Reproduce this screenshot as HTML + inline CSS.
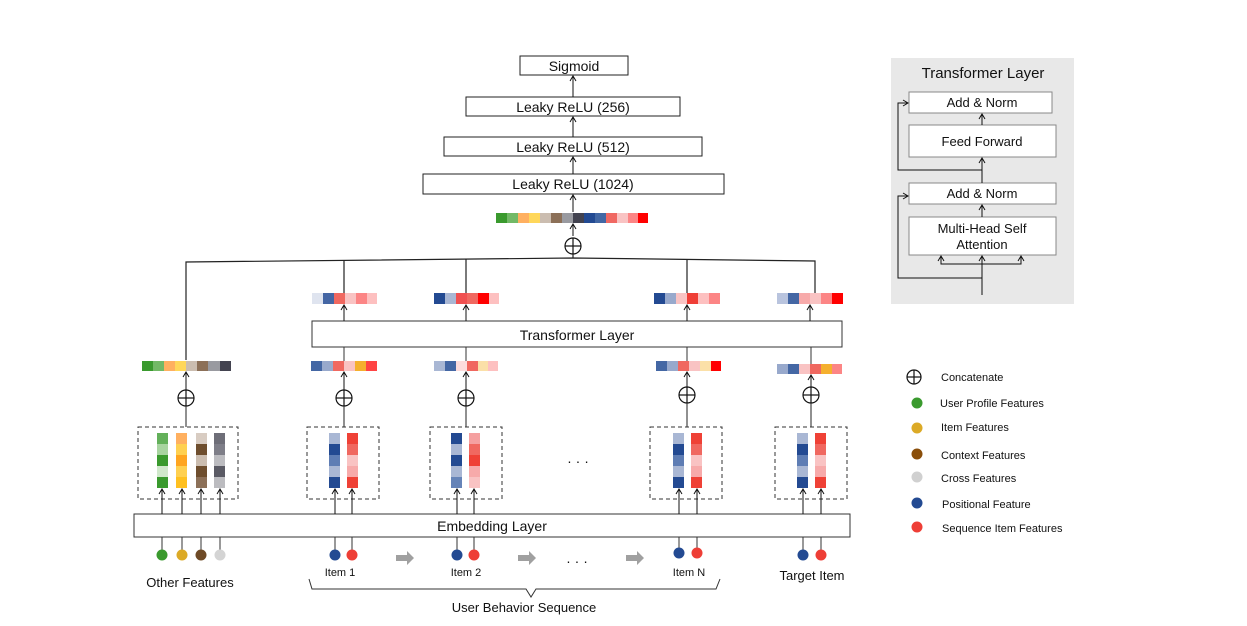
<!DOCTYPE html>
<html><head><meta charset="utf-8"><style>
html,body{margin:0;padding:0;background:#fff;}
svg{display:block;font-family:"Liberation Sans",Arial,sans-serif;}
</style></head><body>
<svg width="1247" height="626" viewBox="0 0 1247 626" xmlns="http://www.w3.org/2000/svg">
<defs>
<marker id="a" markerWidth="8" markerHeight="8" refX="6" refY="4" orient="auto" markerUnits="userSpaceOnUse">
<polyline points="1,1 6,4 1,7" fill="none" stroke="#111" stroke-width="1"/>
</marker>
</defs>
<g stroke="#222" stroke-width="1" fill="#fff">
<!-- top stack -->
<rect x="520" y="56" width="108" height="19"/>
<rect x="466" y="97" width="214" height="19"/>
<rect x="444" y="137" width="258" height="19"/>
<rect x="423" y="174" width="301" height="20"/>
</g>
<g font-size="14" fill="#111" text-anchor="middle">
<text x="574" y="71">Sigmoid</text>
<text x="573" y="112">Leaky ReLU (256)</text>
<text x="573" y="152">Leaky ReLU (512)</text>
<text x="573" y="189">Leaky ReLU (1024)</text>
</g>
<g stroke="#111" stroke-width="1" marker-end="url(#a)">
<line x1="573" y1="97" x2="573" y2="76"/>
<line x1="573" y1="137" x2="573" y2="117"/>
<line x1="573" y1="174" x2="573" y2="157"/>
<line x1="573" y1="212" x2="573" y2="195"/>
<line x1="573" y1="236" x2="573" y2="224"/>
</g>
<!-- top concat bar -->
<g>
<rect x="496" y="213" width="11" height="10" fill="#3a9a2e"/><rect x="507" y="213" width="11" height="10" fill="#72b966"/><rect x="518" y="213" width="11" height="10" fill="#ffb060"/><rect x="529" y="213" width="11" height="10" fill="#ffd75a"/><rect x="540" y="213" width="11" height="10" fill="#cbbdb0"/><rect x="551" y="213" width="11" height="10" fill="#8c7058"/><rect x="562" y="213" width="11" height="10" fill="#999aa0"/><rect x="573" y="213" width="11" height="10" fill="#434350"/><rect x="584" y="213" width="11" height="10" fill="#234a92"/><rect x="595" y="213" width="11" height="10" fill="#4267a4"/><rect x="606" y="213" width="11" height="10" fill="#f06862"/><rect x="617" y="213" width="11" height="10" fill="#f9c3c3"/><rect x="628" y="213" width="10" height="10" fill="#fc8585"/><rect x="638" y="213" width="10" height="10" fill="#ff0000"/>
</g>
<!-- oplus symbols -->
<g stroke="#111" stroke-width="1.2" fill="none">
<circle cx="573" cy="246" r="8"/><line x1="565" y1="246" x2="581" y2="246"/><line x1="573" y1="238" x2="573" y2="254"/>
<circle cx="186" cy="398" r="8"/><line x1="178" y1="398" x2="194" y2="398"/><line x1="186" y1="390" x2="186" y2="406"/>
<circle cx="344" cy="398" r="8"/><line x1="336" y1="398" x2="352" y2="398"/><line x1="344" y1="390" x2="344" y2="406"/>
<circle cx="466" cy="398" r="8"/><line x1="458" y1="398" x2="474" y2="398"/><line x1="466" y1="390" x2="466" y2="406"/>
<circle cx="687" cy="395" r="8"/><line x1="679" y1="395" x2="695" y2="395"/><line x1="687" y1="387" x2="687" y2="403"/>
<circle cx="811" cy="395" r="8"/><line x1="803" y1="395" x2="819" y2="395"/><line x1="811" y1="387" x2="811" y2="403"/>
<circle cx="914" cy="377" r="7"/><line x1="907" y1="377" x2="921" y2="377"/><line x1="914" y1="370" x2="914" y2="384"/>
</g>
<!-- horizontal connector -->
<g stroke="#222" stroke-width="1.2" fill="none">
<polyline points="186,360 186,262 573,258 815,261 815,293"/>
<line x1="344" y1="260" x2="344" y2="293"/>
<line x1="466" y1="259" x2="466" y2="293"/>
<line x1="687" y1="260" x2="687" y2="293"/>
<line x1="573" y1="254" x2="573" y2="258"/>
</g>
<!-- transformer layer box -->
<rect x="312" y="321" width="530" height="26" fill="#fff" stroke="#333" stroke-width="1"/>
<text x="577" y="340" font-size="14" text-anchor="middle" fill="#111">Transformer Layer</text>
<g stroke="#111" stroke-width="1" marker-end="url(#a)">
<line x1="344" y1="321" x2="344" y2="305"/>
<line x1="466" y1="321" x2="466" y2="305"/>
<line x1="687" y1="321" x2="687" y2="305"/>
<line x1="810" y1="321" x2="810" y2="305"/>
</g>
<g stroke="#333" stroke-width="1">
<line x1="344" y1="347" x2="344" y2="361"/><line x1="466" y1="347" x2="466" y2="361"/><line x1="687" y1="347" x2="687" y2="361"/><line x1="811" y1="347" x2="811" y2="364"/>
</g>
<!-- upper output bars -->
<g>
<rect x="312" y="293" width="11" height="11" fill="#dfe4ef"/><rect x="323" y="293" width="11" height="11" fill="#4466a4"/><rect x="334" y="293" width="11" height="11" fill="#f06860"/><rect x="345" y="293" width="11" height="11" fill="#f9c3c3"/><rect x="356" y="293" width="11" height="11" fill="#fc8585"/><rect x="367" y="293" width="10" height="11" fill="#fdc0c0"/>
<rect x="434" y="293" width="11" height="11" fill="#234a92"/><rect x="445" y="293" width="11" height="11" fill="#a9b7d4"/><rect x="456" y="293" width="11" height="11" fill="#f05050"/><rect x="467" y="293" width="11" height="11" fill="#f06860"/><rect x="478" y="293" width="11" height="11" fill="#ff0000"/><rect x="489" y="293" width="10" height="11" fill="#fdc0c0"/>
<rect x="654" y="293" width="11" height="11" fill="#234a92"/><rect x="665" y="293" width="11" height="11" fill="#98a9cc"/><rect x="676" y="293" width="11" height="11" fill="#f9c3c3"/><rect x="687" y="293" width="11" height="11" fill="#ef3e36"/><rect x="698" y="293" width="11" height="11" fill="#fdc0c0"/><rect x="709" y="293" width="11" height="11" fill="#fc8585"/>
<rect x="777" y="293" width="11" height="11" fill="#b9c4de"/><rect x="788" y="293" width="11" height="11" fill="#4467a4"/><rect x="799" y="293" width="11" height="11" fill="#f7aaaa"/><rect x="810" y="293" width="11" height="11" fill="#f9c3c3"/><rect x="821" y="293" width="11" height="11" fill="#fc8585"/><rect x="832" y="293" width="11" height="11" fill="#ff0000"/>
</g>
<!-- lower bars -->
<g>
<rect x="142" y="361" width="11" height="10" fill="#3a9a2e"/><rect x="153" y="361" width="11" height="10" fill="#72b966"/><rect x="164" y="361" width="11" height="10" fill="#ffb060"/><rect x="175" y="361" width="11" height="10" fill="#ffd75a"/><rect x="186" y="361" width="11" height="10" fill="#cbbdb0"/><rect x="197" y="361" width="11" height="10" fill="#8c7058"/><rect x="208" y="361" width="12" height="10" fill="#999aa0"/><rect x="220" y="361" width="11" height="10" fill="#434350"/>
<rect x="311" y="361" width="11" height="10" fill="#4467a4"/><rect x="322" y="361" width="11" height="10" fill="#98a9cc"/><rect x="333" y="361" width="11" height="10" fill="#f06860"/><rect x="344" y="361" width="11" height="10" fill="#f9c3c3"/><rect x="355" y="361" width="11" height="10" fill="#f5b02e"/><rect x="366" y="361" width="11" height="10" fill="#ff4444"/>
<rect x="434" y="361" width="11" height="10" fill="#a9b7d4"/><rect x="445" y="361" width="11" height="10" fill="#4467a4"/><rect x="456" y="361" width="11" height="10" fill="#fddcdc"/><rect x="467" y="361" width="11" height="10" fill="#f06860"/><rect x="478" y="361" width="10" height="10" fill="#fbe0a8"/><rect x="488" y="361" width="10" height="10" fill="#fdc0c0"/>
<rect x="656" y="361" width="11" height="10" fill="#4467a4"/><rect x="667" y="361" width="11" height="10" fill="#98a9cc"/><rect x="678" y="361" width="11" height="10" fill="#f06860"/><rect x="689" y="361" width="11" height="10" fill="#f9c3c3"/><rect x="700" y="361" width="11" height="10" fill="#fbe0a8"/><rect x="711" y="361" width="10" height="10" fill="#ff0000"/>
<rect x="777" y="364" width="11" height="10" fill="#98a9cc"/><rect x="788" y="364" width="11" height="10" fill="#4467a4"/><rect x="799" y="364" width="11" height="10" fill="#f9c3c3"/><rect x="810" y="364" width="11" height="10" fill="#f06860"/><rect x="821" y="364" width="11" height="10" fill="#f5b02e"/><rect x="832" y="364" width="10" height="10" fill="#fc8585"/>
</g>
<!-- oplus to bar arrows -->
<g stroke="#111" stroke-width="1" marker-end="url(#a)">
<line x1="186" y1="390" x2="186" y2="372"/>
<line x1="344" y1="390" x2="344" y2="372"/>
<line x1="466" y1="390" x2="466" y2="372"/>
<line x1="687" y1="387" x2="687" y2="372"/>
<line x1="811" y1="387" x2="811" y2="375"/>
</g>
<g stroke="#222" stroke-width="1">
<line x1="186" y1="406" x2="186" y2="427"/><line x1="344" y1="406" x2="344" y2="427"/><line x1="466" y1="406" x2="466" y2="427"/><line x1="687" y1="403" x2="687" y2="427"/><line x1="811" y1="403" x2="811" y2="427"/>
</g>
<!-- dashed boxes -->
<g fill="none" stroke="#333" stroke-width="1" stroke-dasharray="4,3">
<rect x="138" y="427" width="100" height="72"/>
<rect x="307" y="427" width="72" height="72"/>
<rect x="430" y="427" width="72" height="72"/>
<rect x="650" y="427" width="72" height="72"/>
<rect x="775" y="427" width="72" height="72"/>
</g>
<!-- columns -->
<g>
<rect x="157" y="433" width="11" height="11" fill="#63b05a"/><rect x="157" y="444" width="11" height="11" fill="#a8d4a0"/><rect x="157" y="455" width="11" height="11" fill="#3a9a2e"/><rect x="157" y="466" width="11" height="11" fill="#d0e8cb"/><rect x="157" y="477" width="11" height="11" fill="#3a9a2e"/>
<rect x="176" y="433" width="11" height="11" fill="#ffb060"/><rect x="176" y="444" width="11" height="11" fill="#ffd050"/><rect x="176" y="455" width="11" height="11" fill="#ffa520"/><rect x="176" y="466" width="11" height="11" fill="#ffd050"/><rect x="176" y="477" width="11" height="11" fill="#ffc020"/>
<rect x="196" y="433" width="11" height="11" fill="#d8ccc2"/><rect x="196" y="444" width="11" height="11" fill="#6e4e2e"/><rect x="196" y="455" width="11" height="11" fill="#cbbdb0"/><rect x="196" y="466" width="11" height="11" fill="#6e4e2e"/><rect x="196" y="477" width="11" height="11" fill="#8c7058"/>
<rect x="214" y="433" width="11" height="11" fill="#6e6e78"/><rect x="214" y="444" width="11" height="11" fill="#7e7e88"/><rect x="214" y="455" width="11" height="11" fill="#bcbcc0"/><rect x="214" y="466" width="11" height="11" fill="#5a5a64"/><rect x="214" y="477" width="11" height="11" fill="#bcbcc0"/>
</g>
<g id="c1">
<rect x="329" y="433" width="11" height="11" fill="#a9b7d4"/><rect x="329" y="444" width="11" height="11" fill="#234a92"/><rect x="329" y="455" width="11" height="11" fill="#5e7db4"/><rect x="329" y="466" width="11" height="11" fill="#a9b7d4"/><rect x="329" y="477" width="11" height="11" fill="#234a92"/>
<rect x="347" y="433" width="11" height="11" fill="#ef4136"/><rect x="347" y="444" width="11" height="11" fill="#f06860"/><rect x="347" y="455" width="11" height="11" fill="#f9c3c3"/><rect x="347" y="466" width="11" height="11" fill="#f7aaaa"/><rect x="347" y="477" width="11" height="11" fill="#ef4136"/>
</g>
<g>
<rect x="451" y="433" width="11" height="11" fill="#234a92"/><rect x="451" y="444" width="11" height="11" fill="#a9b7d4"/><rect x="451" y="455" width="11" height="11" fill="#234a92"/><rect x="451" y="466" width="11" height="11" fill="#a9b7d4"/><rect x="451" y="477" width="11" height="11" fill="#6684b8"/>
<rect x="469" y="433" width="11" height="11" fill="#f5a0a0"/><rect x="469" y="444" width="11" height="11" fill="#f06860"/><rect x="469" y="455" width="11" height="11" fill="#ef4136"/><rect x="469" y="466" width="11" height="11" fill="#f7aaaa"/><rect x="469" y="477" width="11" height="11" fill="#f9c3c3"/>
</g>
<use href="#c1" x="344" y="0"/>
<use href="#c1" x="468" y="0"/>
<text x="578" y="466" font-size="14" text-anchor="middle" fill="#111">·  ·  ·</text>
<!-- embedding layer -->
<rect x="134" y="514" width="716" height="23" fill="#fff" stroke="#333" stroke-width="1"/>
<text x="492" y="531" font-size="14" text-anchor="middle" fill="#111">Embedding  Layer</text>
<g stroke="#111" stroke-width="1" marker-end="url(#a)">
<line x1="162" y1="514" x2="162" y2="489"/><line x1="182" y1="514" x2="182" y2="489"/><line x1="201" y1="514" x2="201" y2="489"/><line x1="220" y1="514" x2="220" y2="489"/>
<line x1="335" y1="514" x2="335" y2="489"/><line x1="352" y1="514" x2="352" y2="489"/>
<line x1="457" y1="514" x2="457" y2="489"/><line x1="474" y1="514" x2="474" y2="489"/>
<line x1="679" y1="514" x2="679" y2="489"/><line x1="697" y1="514" x2="697" y2="489"/>
<line x1="803" y1="514" x2="803" y2="489"/><line x1="821" y1="514" x2="821" y2="489"/>
</g>
<g stroke="#333" stroke-width="1">
<line x1="162" y1="537" x2="162" y2="553"/><line x1="182" y1="537" x2="182" y2="553"/><line x1="201" y1="537" x2="201" y2="553"/><line x1="220" y1="537" x2="220" y2="553"/>
<line x1="335" y1="537" x2="335" y2="553"/><line x1="352" y1="537" x2="352" y2="553"/>
<line x1="457" y1="537" x2="457" y2="553"/><line x1="474" y1="537" x2="474" y2="553"/>
<line x1="679" y1="537" x2="679" y2="552"/><line x1="697" y1="537" x2="697" y2="552"/>
<line x1="803" y1="537" x2="803" y2="554"/><line x1="821" y1="537" x2="821" y2="554"/>
</g>
<g>
<circle cx="162" cy="555" r="5.5" fill="#3a9a2e"/><circle cx="182" cy="555" r="5.5" fill="#dcaa26"/><circle cx="201" cy="555" r="5.5" fill="#6e4a26"/><circle cx="220" cy="555" r="5.5" fill="#d4d4d4"/>
<circle cx="335" cy="555" r="5.5" fill="#234a92"/><circle cx="352" cy="555" r="5.5" fill="#ee3e36"/>
<circle cx="457" cy="555" r="5.5" fill="#234a92"/><circle cx="474" cy="555" r="5.5" fill="#ee3e36"/>
<circle cx="679" cy="553" r="5.5" fill="#234a92"/><circle cx="697" cy="553" r="5.5" fill="#ee3e36"/>
<circle cx="803" cy="555" r="5.5" fill="#234a92"/><circle cx="821" cy="555" r="5.5" fill="#ee3e36"/>
</g>
<g fill="#a0a0a0">
<polygon points="396,555 407,555 407,551 414,558 407,565 407,561 396,561"/>
<polygon points="518,555 529,555 529,551 536,558 529,565 529,561 518,561"/>
<polygon points="626,555 637,555 637,551 644,558 637,565 637,561 626,561"/>
</g>
<text x="577" y="566" font-size="14" text-anchor="middle" fill="#111">·  ·  ·</text>
<g fill="#111" text-anchor="middle">
<text x="190" y="587" font-size="13">Other Features</text>
<text x="340" y="576" font-size="11">Item 1</text>
<text x="466" y="576" font-size="11">Item 2</text>
<text x="689" y="576" font-size="11">Item N</text>
<text x="812" y="580" font-size="13">Target Item</text>
<text x="524" y="612" font-size="13">User Behavior Sequence</text>
</g>
<path d="M309,579 L312,589 L410,589 Q412,589 413,589 L526,589 L531,597 L536,589 L716,589 L720,579" fill="none" stroke="#333" stroke-width="1"/>
<!-- transformer detail panel -->
<rect x="891" y="58" width="183" height="246" fill="#e8e8e8"/>
<text x="983" y="78" font-size="15" text-anchor="middle" fill="#111">Transformer Layer</text>
<g fill="#fff" stroke="#888" stroke-width="1">
<rect x="909" y="92" width="143" height="21"/>
<rect x="909" y="125" width="147" height="32"/>
<rect x="909" y="183" width="147" height="21"/>
<rect x="909" y="217" width="147" height="38"/>
</g>
<g fill="#111" font-size="13" text-anchor="middle">
<text x="982" y="107">Add &amp; Norm</text>
<text x="982" y="146">Feed Forward</text>
<text x="982" y="198">Add &amp; Norm</text>
<text x="982" y="233">Multi-Head Self</text>
<text x="982" y="249">Attention</text>
</g>
<g stroke="#111" stroke-width="1" fill="none">
<line x1="982" y1="125" x2="982" y2="114" marker-end="url(#a)"/>
<line x1="982" y1="183" x2="982" y2="158" marker-end="url(#a)"/>
<line x1="982" y1="217" x2="982" y2="205" marker-end="url(#a)"/>
<line x1="982" y1="295" x2="982" y2="256" marker-end="url(#a)"/>
<polyline points="982,264 941,264 941,256" marker-end="url(#a)"/>
<polyline points="982,264 1021,264 1021,256" marker-end="url(#a)"/>
<polyline points="982,278 898,278 898,196 908,196" marker-end="url(#a)"/>
<polyline points="982,170 898,170 898,103 908,103" marker-end="url(#a)"/>
</g>
<!-- legend -->
<g>
<circle cx="917" cy="403" r="5.5" fill="#3a9a2e"/>
<circle cx="917" cy="428" r="5.5" fill="#dcaa26"/>
<circle cx="917" cy="454" r="5.5" fill="#8a4e0a"/>
<circle cx="917" cy="477" r="5.5" fill="#d0d0d0"/>
<circle cx="917" cy="503" r="5.5" fill="#234a92"/>
<circle cx="917" cy="527" r="5.5" fill="#ee3e36"/>
</g>
<g fill="#111" font-size="11">
<text x="941" y="381">Concatenate</text>
<text x="940" y="407">User Profile Features</text>
<text x="941" y="431">Item Features</text>
<text x="941" y="459">Context Features</text>
<text x="941" y="482">Cross Features</text>
<text x="942" y="508">Positional Feature</text>
<text x="942" y="532">Sequence Item Features</text>
</g>
</svg>
</body></html>
